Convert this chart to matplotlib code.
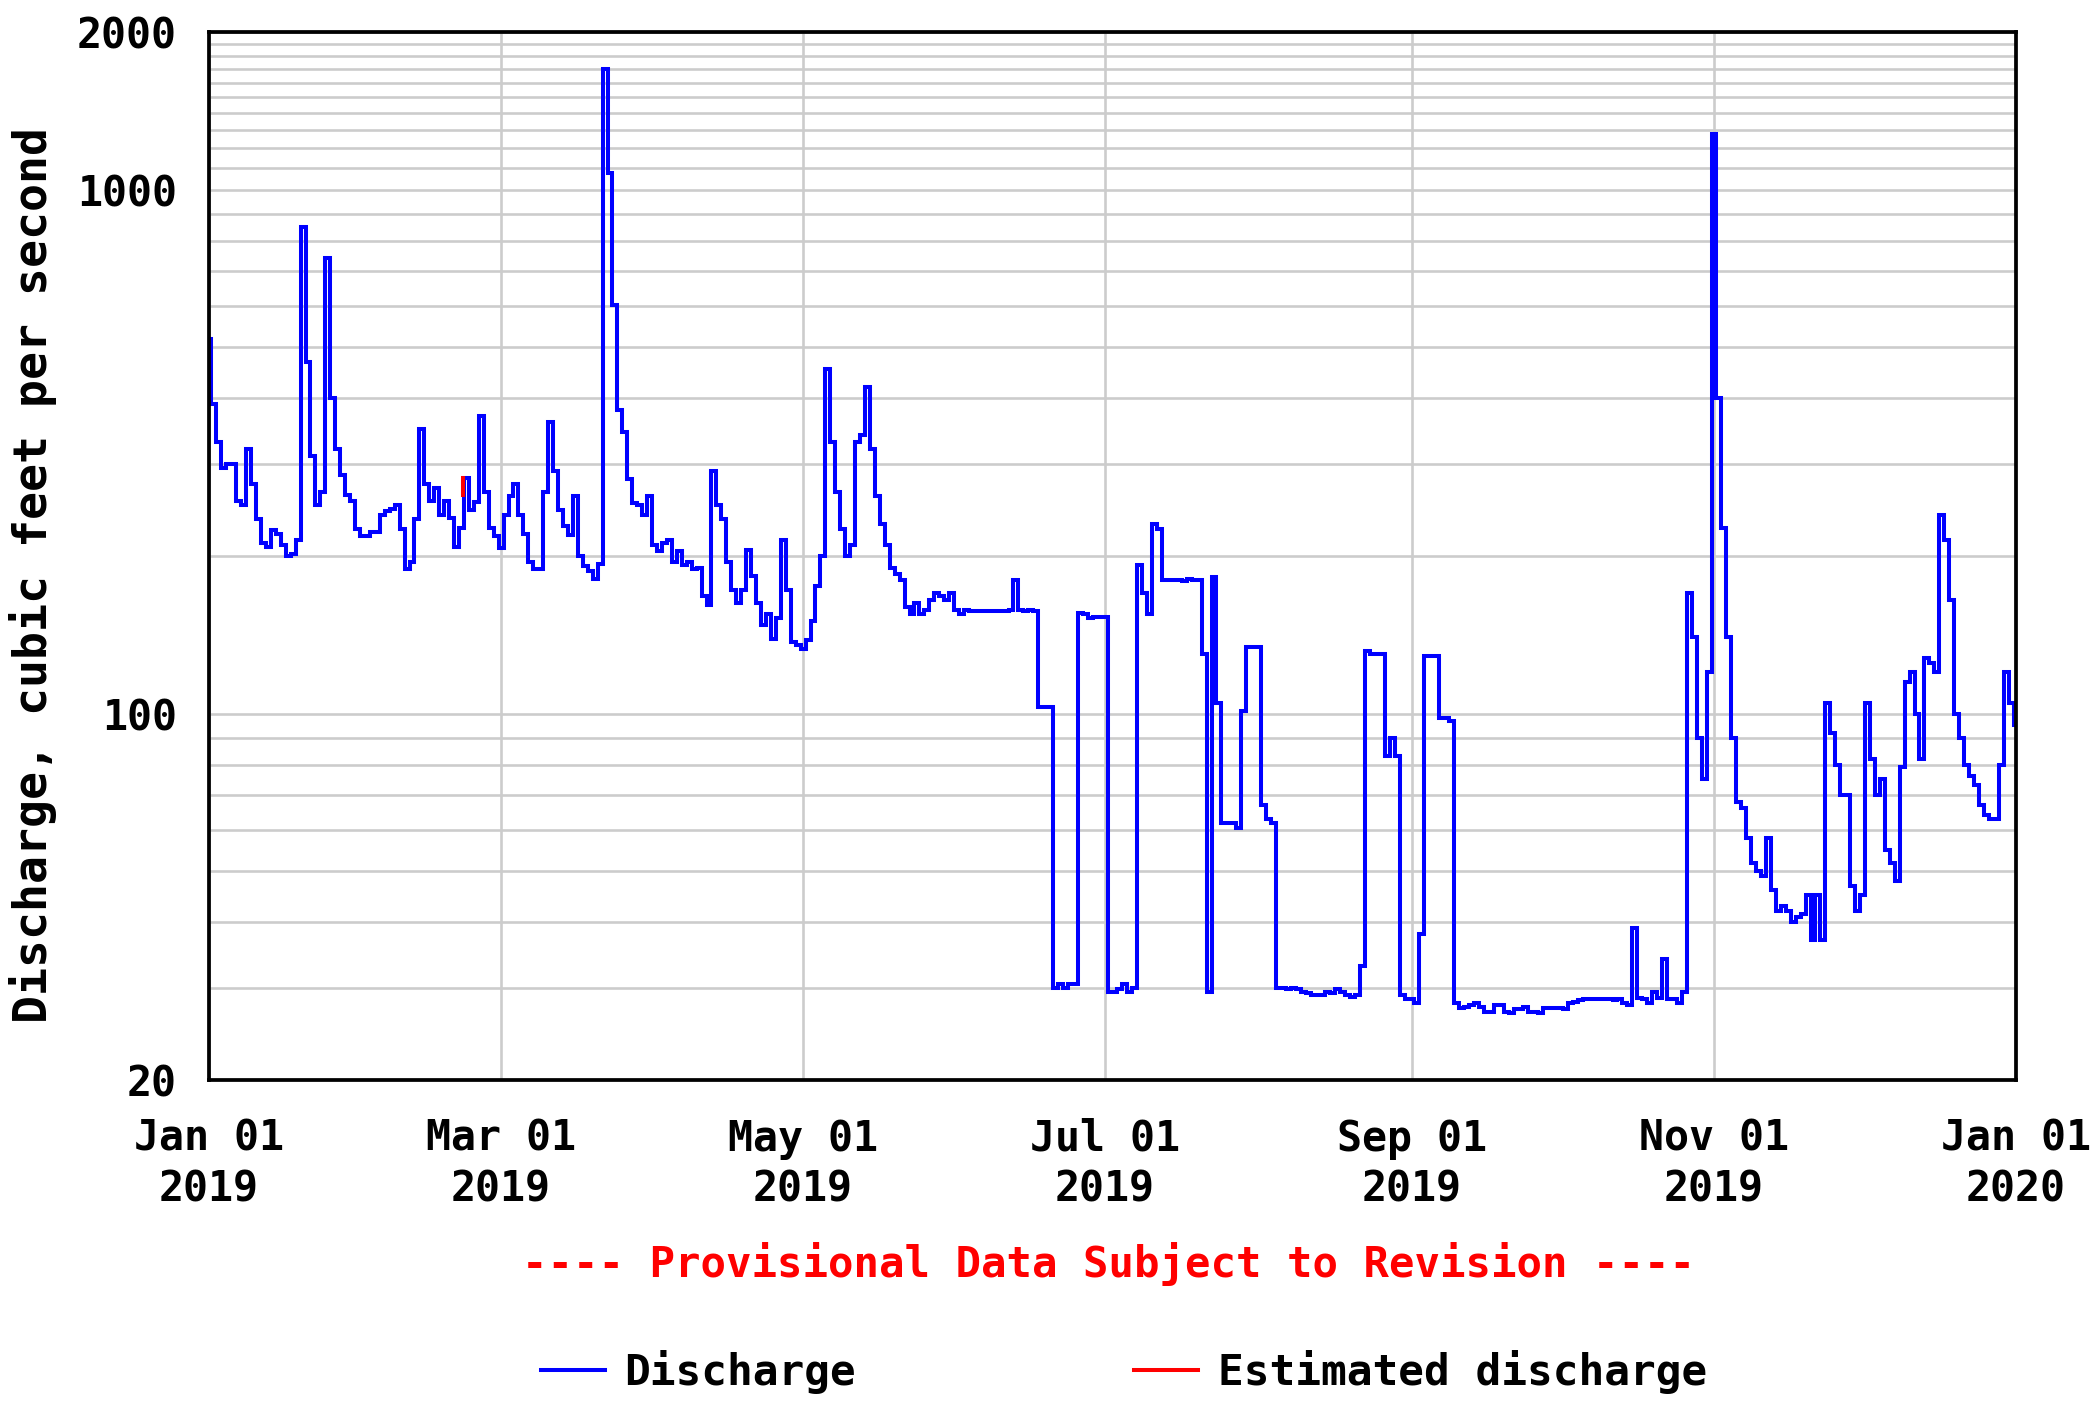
import numpy as np
import pandas as pd
import matplotlib
matplotlib.use("Agg")
import matplotlib.pyplot as plt
from matplotlib.ticker import FixedLocator, NullFormatter

# daily discharge (cfs), one list per month
jan = [520, 390, 330, 295, 300, 300, 255, 250, 320, 275, 235, 212, 208, 224, 220, 210,
       200, 202, 215, 850, 470, 310, 250, 265, 740, 400, 320, 285, 262, 255, 225]
feb = [218, 218, 222, 222, 240, 244, 246, 250, 225, 189, 195, 235, 350, 275, 255, 270,
       240, 255, 236, 208, 226, 282, 245, 254, 370, 265, 226, 218]
mar = [207, 240, 260, 275, 240, 220, 195, 189, 189, 265, 360, 290, 245, 228, 219, 260,
       200, 191, 187, 181, 193, 1700, 1077, 603, 380, 345, 280, 252, 250, 240, 260]
apr = [210, 204, 212, 215, 195, 204, 192, 195, 189, 190, 168, 161, 290, 250, 235, 195,
       172, 163, 172, 205, 183, 163, 148, 155, 139, 152, 215, 172, 137, 135]
may = [133, 138, 150, 175, 200, 455, 330, 265, 225, 200, 210, 330, 340, 420, 320, 260,
       230, 210, 190, 185, 180, 160, 155, 163, 155, 158, 165, 170, 168, 165, 170]
jun = [158, 155, 158, 157, 157, 157, 157, 157, 157, 157, 157, 158, 180, 158, 157, 158,
       157, 103, 103, 103, 30, 30.5, 30, 30.5, 30.5, 156, 155, 152, 153, 153]
jul = [153, 29.5, 29.5, 29.8, 30.5, 29.5, 30, 192, 170, 155, 230, 225, 180, 180, 180, 180,
       179, 181, 180, 180, 130, 29.5, 182, 105, 62, 62, 62, 60.5, 101, 134, 134]
aug = [134, 67, 63, 62, 29.9, 30, 29.8, 29.9, 29.8, 29.5, 29.3, 29.1, 29.1, 29.1, 29.5, 29.3,
       29.8, 29.5, 29, 28.8, 29, 33, 132, 130, 130, 130, 83, 90, 83, 29, 28.5]
sep = [28.5, 28, 38, 129, 129, 129, 98, 98, 97, 28, 27.5, 27.6, 27.8, 28, 27.6, 27,
       27, 27.8, 27.8, 27, 26.8, 27.3, 27.3, 27.6, 27, 27, 26.8, 27.5, 27.5, 27.5]
oct_ = [27.5, 27.3, 28, 28.2, 28.4, 28.5, 28.5, 28.5, 28.5, 28.5, 28.5, 28.4, 28.5, 28, 27.8, 39,
        28.7, 28.5, 28, 29.5, 28.7, 34, 28.5, 28.5, 28, 29.5, 170, 140, 90, 75, 120]
nov = [1280, 400, 226, 140, 90, 68, 66, 58, 52, 50, 49, 58, 46, 42, 43, 42,
       40, 41, 41.5, 45, 37, 45, 37, 105, 92, 80, 70, 70, 47, 42]
dec = [45, 105, 82, 70, 75, 55, 52, 48, 79, 115, 120, 100, 82, 128, 125, 120,
       240, 215, 165, 100, 90, 80, 76, 73, 67, 64, 63, 63, 80, 120, 105]
jan2020 = [95]

# short estimated stretch (days after Jan 1 2019, cfs)
est_days = [51.4, 51.4]
est_vals = [262, 282]

tick_dates = ["2019-01-01", "2019-03-01", "2019-05-01", "2019-07-01",
              "2019-09-01", "2019-11-01", "2020-01-01"]
tick_labels = ["Jan 01\n2019", "Mar 01\n2019", "May 01\n2019", "Jul 01\n2019",
               "Sep 01\n2019", "Nov 01\n2019", "Jan 01\n2020"]
ymajor = [20, 100, 1000, 2000]
yminor = [30, 40, 50, 60, 70, 80, 90, 200, 300, 400, 500, 600, 700, 800, 900,
          1100, 1200, 1300, 1400, 1500, 1600, 1700, 1800, 1900]

values = np.array(jan + feb + mar + apr + may + jun + jul + aug + sep + oct_ + nov + dec + jan2020)
start = pd.Timestamp("2019-01-01")
dates = start + pd.to_timedelta(np.arange(len(values)), unit="D")
est_dates = start + pd.to_timedelta(est_days, unit="D")

mono = "DejaVu Sans Mono"
fs = 30
grey = "#cccccc"

fig = plt.figure(figsize=(20.91, 14.10), dpi=100)
ax = fig.add_axes([209 / 2091, 1 - 1080 / 1410, (2016 - 209) / 2091, (1080 - 32) / 1410])

l1, = ax.plot(dates, values, color="#0000ff", lw=2.9, drawstyle="steps-mid",
              solid_joinstyle="miter", zorder=3, label="Discharge")
l2, = ax.plot(est_dates, est_vals, color="#ff0000", lw=2.9, zorder=4,
              label="Estimated discharge")

ax.set_yscale("log")
ax.set_ylim(20, 2000)
ax.set_xlim(pd.Timestamp(tick_dates[0]), pd.Timestamp(tick_dates[-1]))

ax.yaxis.set_major_locator(FixedLocator(ymajor))
ax.yaxis.set_minor_locator(FixedLocator(yminor))
ax.yaxis.set_minor_formatter(NullFormatter())
ax.set_yticklabels([str(v) for v in ymajor])
ax.set_xticks([pd.Timestamp(d) for d in tick_dates])
ax.set_xticklabels(tick_labels, linespacing=1.27)

ax.grid(True, axis="y", which="both", color=grey, lw=1.9, zorder=1)
ax.grid(True, axis="x", which="major", color=grey, lw=1.9, zorder=1)
ax.set_axisbelow(True)

ax.tick_params(axis="both", which="both", length=0)
ax.tick_params(axis="x", pad=27)
ax.tick_params(axis="y", pad=23)
for lab in ax.get_xticklabels() + ax.get_yticklabels():
    lab.set_fontfamily(mono)
    lab.set_fontweight("bold")
    lab.set_fontsize(fs)

for s in ax.spines.values():
    s.set_linewidth(2.7)
    s.set_color("black")
    s.set_zorder(5)

fig.text(33 / 2091, 1 - 575 / 1410, "Discharge, cubic feet per second", rotation=90,
         ha="center", va="center", fontsize=33.5, family=mono, weight="bold")
fig.text(1108 / 2091, 1 - 1264 / 1410, "---- Provisional Data Subject to Revision ----",
         ha="center", va="center", fontsize=30.5, family=mono, weight="bold", color="#ff0000")

fig.legend(handles=[l1, l2], loc="center", bbox_to_anchor=(1124 / 2091, 1 - 1372 / 1410),
           ncol=2, frameon=False, handlelength=1.5, handletextpad=0.45, columnspacing=6.5,
           prop={"family": mono, "weight": "bold", "size": 30.8})

fig.savefig("out.png", dpi=100, facecolor="white")
